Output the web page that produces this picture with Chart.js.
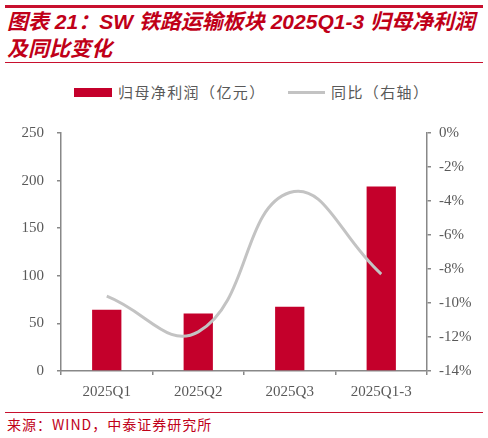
<!DOCTYPE html>
<html lang="zh">
<head>
  <meta charset="UTF-8">
  <title>SW 铁路运输板块 2025Q1-3 归母净利润及同比变化</title>
  <script src="https://cdn.jsdelivr.net/npm/chart.js"></script>
  <style>
    body {
      margin: 0;
      width: 488px;
      height: 438px;
      background: #fff;
      position: relative;
      overflow: hidden;
      font-family: "Liberation Sans", "Noto Sans CJK SC", sans-serif;
    }
    .rule {
      position: absolute;
      left: 5px;
      width: 478px;
      background: #C8102E;
    }
    #title {
      position: absolute;
      left: 7px;
      top: 8px;
      color: #C00018;
      font-size: 21px;
      font-weight: bold;
      font-style: italic;
      line-height: 27px;
      white-space: nowrap;
    }
    #legend {
      position: absolute;
      top: 82px;
      left: 0;
      width: 488px;
      font-family: "Noto Sans CJK SC", sans-serif;
      font-size: 15px;
      color: #595959;
    }
    .item {
      position: absolute;
      top: 0;
      line-height: 20px;
      letter-spacing: 1.4px;
      white-space: nowrap;
    }
    .swatch {
      position: absolute;
    }
    #chartBox {
      position: absolute;
      left: 0;
      top: 111px;
      width: 488px;
      height: 289px;
    }
    #source {
      position: absolute;
      left: 7px;
      top: 415px;
      color: #C00018;
      font-family: "Noto Sans CJK SC", sans-serif;
      font-size: 14px;
      line-height: 18px;
      letter-spacing: 1px;
      white-space: nowrap;
    }
  </style>
</head>
<body>
  <div class="rule" style="top:5px;height:3px;"></div>
  <div id="title">图表 21：SW 铁路运输板块 2025Q1-3 归母净利润<br>及同比变化</div>
  <div class="rule" style="top:62px;height:1px;"></div>

  <div id="legend"></div>

  <div id="chartBox"><canvas id="chart"></canvas></div>

  <div class="rule" style="top:412px;height:1px;"></div>
  <div id="source">来源：WIND，中泰证券研究所</div>

  <script>
    // data
    const quarters = ["2025Q1", "2025Q2", "2025Q3", "2025Q1-3"];
    const profit = [64.3, 60.5, 67.4, 193.7];      // 归母净利润（亿元）
    const yoy = [-9.6, -11.7, -3.5, -8.3];         // 同比（%）
    const leftTicks = [0, 50, 100, 150, 200, 250];
    const rightTicks = [0, -2, -4, -6, -8, -10, -12, -14];

    const barName = "归母净利润（亿元）";
    const lineName = "同比（右轴）";
    const barColor = "#C4002B";
    const lineColor = "#C3C3C3";
    const axisColor = "#888888";
    const tickFont = { family: "Liberation Serif", size: 15 };

    // legend
    const legend = document.getElementById("legend");
    legend.innerHTML =
      '<div class="swatch" style="left:74px;top:6px;width:38px;height:9px;background:' + barColor + '"></div>' +
      '<div class="item" style="left:118px">' + barName + '</div>' +
      '<div class="swatch" style="left:288px;top:9px;width:37px;height:3px;background:' + lineColor + '"></div>' +
      '<div class="item" style="left:331px">' + lineName + '</div>';

    const fixWidth = w => scale => { scale.width = w; };

    new Chart(document.getElementById("chart").getContext("2d"), {
      data: {
        labels: quarters,
        datasets: [
          {
            type: "line",
            label: lineName,
            data: yoy,
            yAxisID: "y1",
            borderColor: lineColor,
            borderWidth: 3,
            pointRadius: 0,
            tension: 0.45,
            fill: false,
            order: 0
          },
          {
            type: "bar",
            label: barName,
            data: profit,
            yAxisID: "y",
            backgroundColor: barColor,
            categoryPercentage: 1,
            barPercentage: 0.32,
            order: 1
          }
        ]
      },
      options: {
        responsive: true,
        maintainAspectRatio: false,
        animation: false,
        layout: { padding: { top: 0, left: 0, right: 0, bottom: 0 } },
        plugins: {
          legend: { display: false },
          tooltip: { enabled: false }
        },
        scales: {
          x: {
            offset: true,
            grid: {
              offset: true,
              drawOnChartArea: false,
              drawTicks: true,
              tickLength: 4,
              color: axisColor,
              lineWidth: 1.5
            },
            border: { color: axisColor, width: 1.5 },
            ticks: { color: "#595959", font: tickFont, padding: 8, maxRotation: 0 },
            afterFit: scale => { scale.height = 29; }
          },
          y: {
            position: "left",
            min: 0,
            max: 250,
            afterBuildTicks: scale => { scale.ticks = leftTicks.map(v => ({ value: v })); },
            grid: { drawOnChartArea: false, tickLength: 4, color: axisColor, lineWidth: 1.5 },
            border: { color: axisColor, width: 1.5 },
            ticks: { color: "#595959", font: tickFont, padding: 13 },
            afterFit: fixWidth(61)
          },
          y1: {
            position: "right",
            min: -14,
            max: 0,
            afterBuildTicks: scale => { scale.ticks = rightTicks.map(v => ({ value: v })); },
            grid: { drawOnChartArea: false, tickLength: 4, color: axisColor, lineWidth: 1.5 },
            border: { color: axisColor, width: 1.5 },
            ticks: {
              color: "#595959",
              font: tickFont,
              padding: 8,
              callback: v => v + "%"
            },
            afterFit: fixWidth(61)
          }
        }
      }
    });
  </script>
</body>
</html>
